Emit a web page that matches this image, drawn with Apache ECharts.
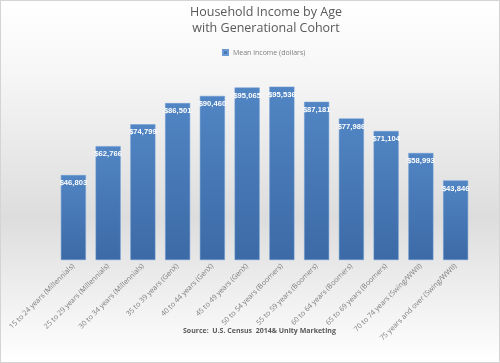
<!DOCTYPE html>
<html><head><meta charset="utf-8">
<script src="https://cdn.jsdelivr.net/npm/echarts@6/dist/echarts.min.js"></script>
<style>html,body{margin:0;padding:0;background:#fff}#c{width:498px;height:361px;border:1px solid #d4d4d4}</style>
</head><body><div id="c"></div>
<script>
var categories = ["15 to 24 years (Millennials)","25 to 29 years (Millennials)","30 to 34 years (Millennials)","35 to 39 years (GenX)","40 to 44 years (GenX)","45 to 49 years (GenX)","50 to 54 years (Boomers)","55 to 59 years (Boomers)","60 to 64 years (Boomers)","65 to 69 years (Boomers)","70 to 74 years (Swing/WWII)","75 years and over (Swing/WWII)"];
var meanIncome = [46803,62766,74799,86501,90460,95065,95536,87181,77986,71104,58993,43846];
var seriesName = "Mean income (dollars)";
var titleText = "Household Income by Age\nwith Generational Cohort";
var sourceText = "Source:  U.S. Census  2014& Unity Marketing";

var chart = echarts.init(document.getElementById('c'));
chart.setOption({
  backgroundColor: new echarts.graphic.LinearGradient(0,0,0,1,[
    {offset:0,color:'#ffffff'},{offset:0.2,color:'#f6f6f6'},{offset:0.6,color:'#dddddd'},{offset:1,color:'#ffffff'}]),
  animation:false,
  title:{text:titleText,left:265,textAlign:'center',top:3,padding:0,
    textStyle:{fontFamily:'Open Sans',fontWeight:'normal',fontSize:12.5,color:'#595959',lineHeight:16}},
  legend:{data:[seriesName],top:43,left:216,itemWidth:5,itemHeight:5,icon:'rect',
    textStyle:{fontFamily:'Open Sans',fontSize:7,color:'#7f7f7f'},itemGap:3},
  grid:{left:55,right:26,top:77.6,bottom:102},
  xAxis:{type:'category',data:categories,
    axisLine:{show:false},axisTick:{show:false},
    axisLabel:{rotate:45,interval:0,fontFamily:'Open Sans',fontSize:7.2,color:'#7f7f7f',margin:5}},
  yAxis:{type:'value',min:0,max:100000,show:false,splitLine:{show:false}},
  graphic:[{type:'text',left:182,top:326,style:{text:sourceText,fontFamily:'Open Sans',fontSize:7,fontWeight:'bold',fill:'#595959'}}],
  series:[{name:seriesName,type:'bar',data:meanIncome,barCategoryGap:'28%',
    itemStyle:{color:new echarts.graphic.LinearGradient(0,0,0,1,[
      {offset:0,color:'#5185c3'},{offset:1,color:'#3c6aa6'}]),
      borderColor:'#6b9ad4',borderWidth:0.5},
    label:{show:true,position:'insideTop',distance:4,
      formatter:function(p){return '$'+p.value.toLocaleString('en-US');},
      fontFamily:'Liberation Sans',fontSize:7.6,fontWeight:'bold',color:'#ffffff'}}]
});
</script></body></html>
